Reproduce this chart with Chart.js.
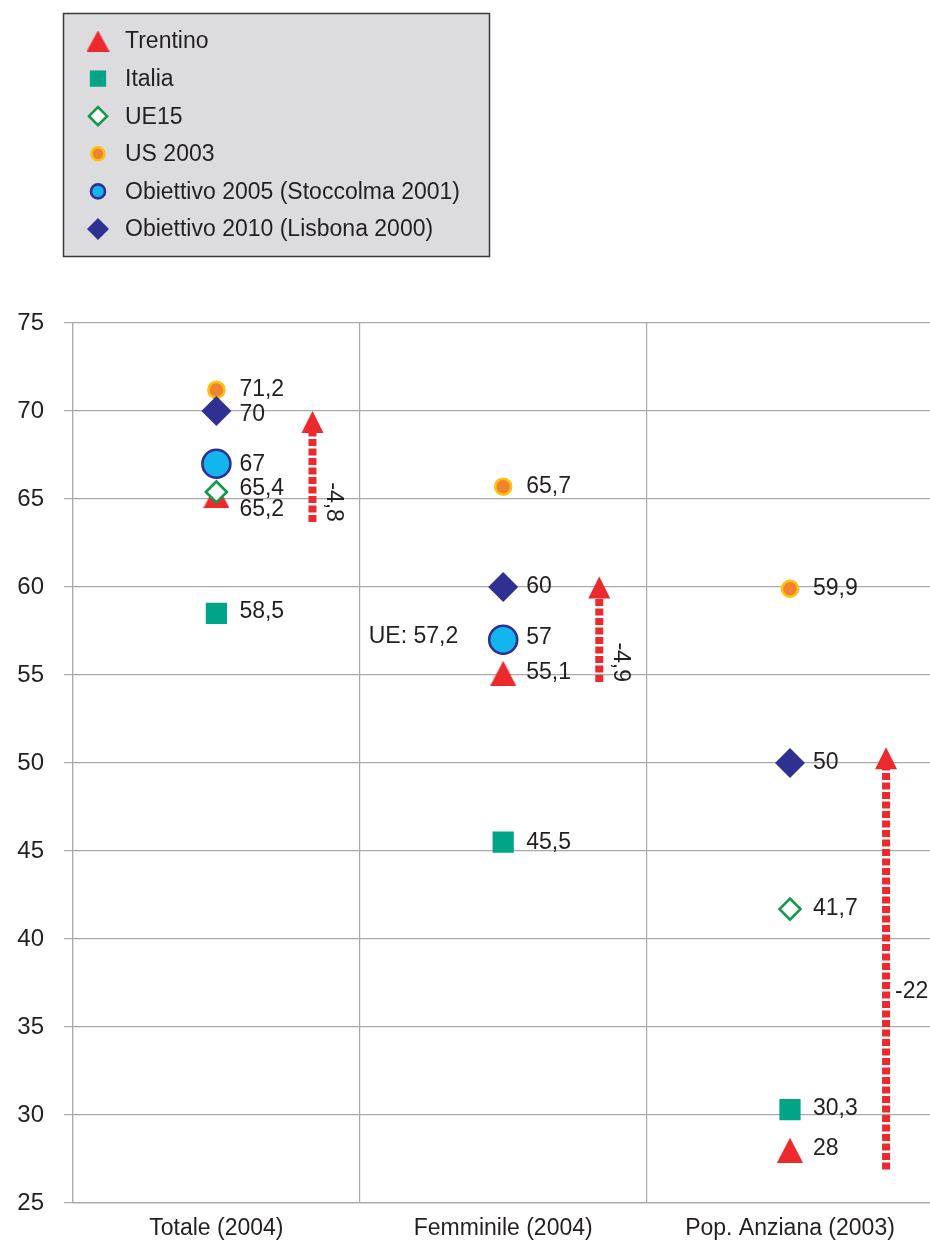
<!DOCTYPE html>
<html>
<head>
<meta charset="utf-8">
<script src="https://cdn.jsdelivr.net/npm/chart.js@4.4.1/dist/chart.umd.min.js"></script>
<style>
html, body { margin: 0; padding: 0; background: #fff; overflow: hidden; }
#wrap { position: relative; width: 930px; height: 1245px; overflow: hidden; }
canvas { position: absolute; left: 0; top: 0; }
</style>
</head>
<body>
<div id="wrap"><canvas id="chart" width="950" height="1245"></canvas></div>
<script>
var categories = ['Totale (2004)', 'Femminile (2004)', 'Pop. Anziana (2003)']
var yTicks = [25, 30, 35, 40, 45, 50, 55, 60, 65, 70, 75]

var trentino = [65.2, 55.1, 28]
var italia = [58.5, 45.5, 30.3]
var ue15 = [65.4, 57.2, 41.7]
var us2003 = [71.2, 65.7, 59.9]
var obiettivo2005 = [67, 57, null]
var obiettivo2010 = [70, 60, 50]

// gap arrows: from the Trentino level up to the target
var gapFrom = [63.7, 54.6, 26.9]
var gapTo = [70, 60.6, 50.9]
var gapLabels = ['-4,8', '-4,9', '-22']

var FONT = '"Liberation Sans", Arial, sans-serif'
var TEXT = '#231f20'
var GRID = '#a9a9a9'
var RED = '#ec2a2e'

// small vertical nudges of the value labels, per series / category
var labelShift = [[14, -1, -2], [-2, 0, -1], [-3, 0, 0], [0, 0, 0], [1, -2, 0], [4, 0, 0]]

var fmt = function(v) { return String(v).replace('.', ',') }

// the Trentino mark is a square-ish triangle, not an equilateral one
var makeTriangle = function(w, h) {
	var c = document.createElement('canvas')
	c.width = w
	c.height = h
	var g = c.getContext('2d')
	g.fillStyle = RED
	g.beginPath()
	g.moveTo(w / 2, 0)
	g.lineTo(w, h)
	g.lineTo(0, h)
	g.closePath()
	g.fill()
	return c
}
var triBig = makeTriangle(26, 25)
var triSmall = makeTriangle(23, 21)

var datasets = [
	{ label: 'Trentino', data: trentino, pointStyle: triBig, pointRadius: 13,
		backgroundColor: RED, borderColor: RED, pointBorderWidth: 0, order: 5 },
	{ label: 'Italia', data: italia, pointStyle: 'rect', pointRadius: 15,
		backgroundColor: '#00a486', borderColor: '#00a486', pointBorderWidth: 0, order: 3 },
	{ label: 'UE15', data: ue15, pointStyle: 'rectRot', pointRadius: [10.5, 0, 10.5],
		backgroundColor: '#ffffff', borderColor: '#129a48', pointBorderWidth: 2.6, order: 2 },
	{ label: 'US 2003', data: us2003, pointStyle: 'circle', pointRadius: 8,
		backgroundColor: '#f0832d', borderColor: '#fdc010', pointBorderWidth: 2.6, order: 4 },
	{ label: 'Obiettivo 2005 (Stoccolma 2001)', data: obiettivo2005, pointStyle: 'circle', pointRadius: 14,
		backgroundColor: '#14b4ec', borderColor: '#2e3192', pointBorderWidth: 2.6, order: 1 },
	{ label: 'Obiettivo 2010 (Lisbona 2000)', data: obiettivo2010, pointStyle: 'rectRot', pointRadius: 15,
		backgroundColor: '#2e3192', borderColor: '#2e3192', pointBorderWidth: 0, order: 0 }
]
datasets.forEach(function(ds) {
	ds.showLine = false
	ds.pointBackgroundColor = ds.backgroundColor
	ds.pointBorderColor = ds.borderColor
	ds.pointHoverRadius = ds.pointRadius
})

var legendRadius = [0, 11.5, 9, 6.5, 7, 11]

var legendBox = {
	id: 'legendBox',
	afterDraw: function(chart) {
		var ctx = chart.ctx
		ctx.save()
		ctx.fillStyle = '#dcdcde'
		ctx.fillRect(63, 13, 427, 244)
		ctx.strokeStyle = '#3a3a3a'
		ctx.lineWidth = 1.5
		ctx.strokeRect(63.5, 13.5, 426, 243)
		chart.data.datasets.forEach(function(ds, i) {
			var cy = 41 + i * 37.6
			if (typeof ds.pointStyle === 'string') {
				ctx.fillStyle = ds.backgroundColor
				ctx.strokeStyle = ds.borderColor
				ctx.lineWidth = ds.pointBorderWidth
				Chart.helpers.drawPoint(ctx, {
					pointStyle: ds.pointStyle, rotation: 0,
					radius: legendRadius[i], borderWidth: ds.pointBorderWidth
				}, 98, cy)
			} else {
				ctx.drawImage(triSmall, 98 - triSmall.width / 2, cy - triSmall.height / 2)
			}
			ctx.fillStyle = TEXT
			ctx.font = '23px ' + FONT
			ctx.textAlign = 'left'
			ctx.textBaseline = 'middle'
			ctx.fillText(ds.label, 125, cy + 1)
		})
		ctx.restore()
	}
}

var valueLabels = {
	id: 'valueLabels',
	afterDatasetsDraw: function(chart) {
		var ctx = chart.ctx
		ctx.save()
		ctx.fillStyle = TEXT
		ctx.font = '23px ' + FONT
		ctx.textBaseline = 'middle'
		chart.data.datasets.forEach(function(ds, i) {
			var meta = chart.getDatasetMeta(i)
			ds.data.forEach(function(v, j) {
				if (v === null) return
				var pt = meta.data[j]
				var r = Array.isArray(ds.pointRadius) ? ds.pointRadius[j] : ds.pointRadius
				if (r === 0) {
					ctx.textAlign = 'right'
					ctx.fillText('UE: ' + fmt(v), pt.x - 45, pt.y)
				} else {
					ctx.textAlign = 'left'
					ctx.fillText(fmt(v), pt.x + 23, pt.y + labelShift[i][j])
				}
			})
		})
		ctx.restore()
	}
}

var gapArrows = {
	id: 'gapArrows',
	afterDatasetsDraw: function(chart) {
		var ctx = chart.ctx
		var xs = chart.scales.x
		var ys = chart.scales.y
		var band = xs.getPixelForValue(1) - xs.getPixelForValue(0)
		var head = 22
		ctx.save()
		gapFrom.forEach(function(v, i) {
			var px = xs.getPixelForValue(i) + band * 0.335
			var y0 = ys.getPixelForValue(v)
			var y1 = ys.getPixelForValue(gapTo[i])
			ctx.strokeStyle = RED
			ctx.lineWidth = 8
			ctx.setLineDash([7, 2.5])
			ctx.beginPath()
			ctx.moveTo(px, y0)
			ctx.lineTo(px, y1 + head - 1)
			ctx.stroke()
			ctx.setLineDash([])
			ctx.fillStyle = RED
			ctx.beginPath()
			ctx.moveTo(px, y1)
			ctx.lineTo(px + 11, y1 + head)
			ctx.lineTo(px - 11, y1 + head)
			ctx.closePath()
			ctx.fill()

			ctx.fillStyle = TEXT
			ctx.font = '23px ' + FONT
			ctx.textBaseline = 'middle'
			if (i < 2) {
				ctx.save()
				ctx.translate(px + 21, y0)
				ctx.rotate(Math.PI / 2)
				ctx.textAlign = 'right'
				ctx.fillText(gapLabels[i], 0, 0)
				ctx.restore()
			} else {
				ctx.textAlign = 'left'
				ctx.fillText(gapLabels[i], px + 9, ys.getPixelForValue(v + (gapTo[i] - v) * 0.42))
			}
		})
		ctx.restore()
	}
}

new Chart(document.getElementById('chart'), {
	type: 'line',
	data: { labels: categories, datasets: datasets },
	options: {
		responsive: false,
		animation: false,
		devicePixelRatio: 1,
		layout: { padding: { top: 323, right: 0, bottom: 0, left: 0 } },
		plugins: { legend: { display: false }, tooltip: { enabled: false } },
		scales: {
			x: {
				type: 'category',
				offset: true,
				grid: { offset: true, drawTicks: false, color: GRID, lineWidth: 1.2 },
				border: { display: true, color: GRID, width: 1.2 },
				ticks: { color: TEXT, font: { family: FONT, size: 23 }, padding: 12, maxRotation: 0 },
				afterFit: function(scale) { scale.height = 42 }
			},
			y: {
				min: 25,
				max: 75,
				afterBuildTicks: function(scale) {
					scale.ticks = yTicks.map(function(v) { return { value: v } })
				},
				grid: { color: GRID, lineWidth: 1.2, tickLength: 9 },
				border: { display: true, color: GRID, width: 1.2 },
				ticks: { color: TEXT, font: { family: FONT, size: 24 }, padding: 20 },
				afterFit: function(scale) { scale.width = 73 }
			}
		}
	},
	plugins: [gapArrows, valueLabels, legendBox]
})
</script>
</body>
</html>
